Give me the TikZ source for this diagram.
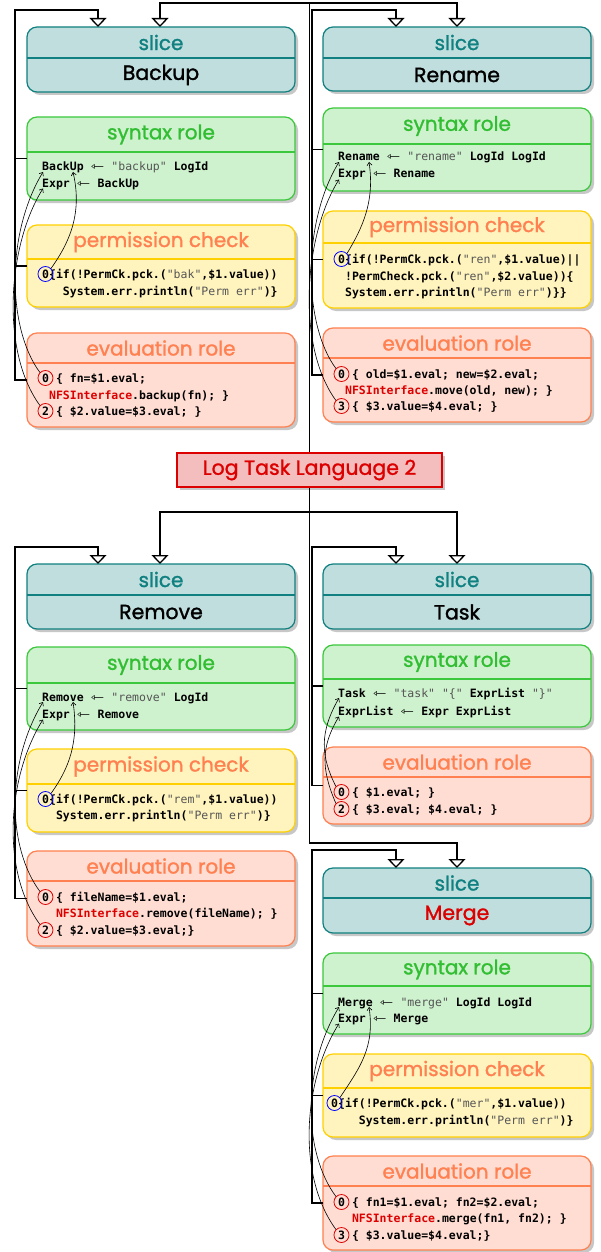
\documentclass[tikz,border=0pt]{standalone}
\usepackage{fontspec}
\usepackage{graphicx}
\setmonofont{DejaVu Sans Mono}
\newfontfamily\tfont[FakeBold=1.3]{Poppins}
\newfontfamily\djs{DejaVu Sans}
\usetikzlibrary{shadows,calc,arrows.meta}
\definecolor{slfill}{RGB}{192,222,222}
\definecolor{sldraw}{RGB}{16,128,128}
\definecolor{synfill}{RGB}{206,241,206}
\definecolor{syndraw}{RGB}{60,200,60}
\definecolor{syntext}{RGB}{50,190,50}
\definecolor{pmfill}{RGB}{255,244,190}
\definecolor{pmdraw}{RGB}{255,208,0}
\definecolor{coral}{RGB}{255,128,80}
\definecolor{evfill}{RGB}{255,221,211}
\definecolor{ltred}{RGB}{220,0,0}
\definecolor{ttfill}{RGB}{244,190,190}
\definecolor{strc}{RGB}{85,85,85}
\newcommand\Str[1]{{\mdseries\color{strc}#1}}
\newcommand\Nfs{{\color{ltred}NFSInterface}}
\newcommand\Larr{\makebox[13.85pt][c]{\mdseries\djs\scalebox{1.4}[1]{⇽}}}
\tikzset{
  box/.style={rounded corners=10pt, line width=1.2pt, minimum width=268pt, inner sep=0pt, outer sep=0pt, anchor=north west,
    drop shadow={shadow xshift=3pt,shadow yshift=-3pt,fill=black!22,opacity=1}},
  slicebox/.style={box, fill=slfill, draw=sldraw},
  synbox/.style={box, fill=synfill, draw=syndraw},
  pmbox/.style={box, fill=pmfill, draw=pmdraw},
  evbox/.style={box, fill=evfill, draw=coral},
  slicediv/.style={draw=sldraw, line width=1.2pt},
  syndiv/.style={draw=syndraw, line width=1.2pt},
  pmdiv/.style={draw=pmdraw, line width=1.2pt},
  evdiv/.style={draw=coral, line width=1.2pt},
  ttl/.style={inner sep=0pt, font=\tfont\fontsize{20}{22}\selectfont},
  slicettl/.style={ttl, text=sldraw},
  synttl/.style={ttl, text=syntext},
  pmttl/.style={ttl, text=coral},
  evttl/.style={ttl, text=coral},
  namettl/.style={inner sep=0pt, font=\tfont\fontsize{20.5}{22}\selectfont, text=black},
  code/.style={anchor=base west, inner sep=0pt, font=\ttfamily\bfseries\fontsize{11.5}{13}\selectfont},
  rc/.style={circle, draw=ltred, line width=0.8pt, minimum size=15pt, inner sep=0pt},
  bc/.style={rc, draw=blue},
  cur/.style={line width=0.6pt, -{Straight Barb[length=3pt,width=5pt]}},
  conn/.style={line width=1.3pt},
  gen/.style={conn, -{Triangle[open,fill=white,length=9pt,width=17pt]}},
  titlebox/.style={draw=ltred, fill=ttfill, line width=1.2pt, minimum width=265pt, minimum height=34pt, inner sep=0pt,
    text=ltred, font=\tfont\fontsize{20.5}{23}\selectfont,
    drop shadow={shadow xshift=3pt,shadow yshift=-3pt,fill=black!22,opacity=1}}
}
\newcommand\panel[7]{%
  \node[#2box, minimum height={(#5)-(#4)}] (#1) at (#3,#4) {};
  \draw[#2div] (#1.west |- 0,#6) -- (#1.east |- 0,#6);
  \node[#2ttl] (#1-ttl) at ({#3+134},{(#4+#6)/2}) {#7};
}
\newcommand\cdl[4]{\node[code] (#1) at (#2,{#3+4}) {#4};}
\begin{document}
\begin{tikzpicture}[x=1pt,y=-1pt]
\fill[white] (0,0) rectangle (601,1252);
\useasboundingbox (0,0) rectangle (601,1252);

% ===== title =====
\node[titlebox] (title) at (309.5,470) {Log Task Language 2};

% ===== Backup =====
\panel{bk-sl}{slice}{27}{27}{92}{58}{slice}
\node[namettl] (bk-name) at (161,75) {Backup};
\panel{bk-syn}{syn}{27}{117}{200}{152}{syntax role}
\panel{bk-pm}{pm}{27}{225}{307}{259}{permission check}
\panel{bk-ev}{ev}{27}{333}{427}{363}{evaluation role}
\cdl{bk-s1}{42}{167}{BackUp \Larr{} \Str{"backup"} LogId}
\cdl{bk-s2}{42}{183}{Expr \Larr{} BackUp}
\cdl{bk-p1}{42}{274}{0\{if(!PermCk.pck.(\Str{"bak"},\$1.value))}
\cdl{bk-p2}{62.77}{291}{System.err.println(\Str{"Perm err"})\}}
\cdl{bk-e1}{42}{378}{0 \{ fn=\$1.eval;}
\cdl{bk-e2}{48.92}{395}{\Nfs.backup(fn); \}}
\cdl{bk-e3}{42}{411}{2 \{ \$2.value=\$3.eval; \}}
\node[bc] (bk-p0) at (45.46,274) {};
\node[rc] (bk-e0) at (45.46,378) {};
\node[rc] (bk-e2) at (45.46,411) {};

% ===== Rename =====
\panel{rn-sl}{slice}{323}{27}{91}{58}{slice}
\node[namettl] (rn-name) at (457,75) {Rename};
\panel{rn-syn}{syn}{323}{108}{191}{144}{syntax role}
\panel{rn-pm}{pm}{323}{211}{308}{243}{permission check}
\panel{rn-ev}{ev}{323}{328}{422}{358}{evaluation role}
\cdl{rn-s1}{338}{157}{Rename \Larr{} \Str{"rename"} LogId LogId}
\cdl{rn-s2}{338}{174}{Expr \Larr{} Rename}
\cdl{rn-p1}{338}{259}{0\{if(!PermCk.pck.(\Str{"ren"},\$1.value)||}
\cdl{rn-p2}{344.92}{276}{!PermCheck.pck.(\Str{"ren"},\$2.value))\{}
\cdl{rn-p3}{344.92}{292}{System.err.println(\Str{"Perm err"})\}\}}
\cdl{rn-e1}{338}{374}{0 \{ old=\$1.eval; new=\$2.eval;}
\cdl{rn-e2}{344.92}{390}{\Nfs.move(old, new); \}}
\cdl{rn-e3}{338}{406}{3 \{ \$3.value=\$4.eval; \}}
\node[bc] (rn-p0) at (341.46,259) {};
\node[rc] (rn-e0) at (341.46,374) {};
\node[rc] (rn-e3) at (341.46,406) {};

% ===== Remove =====
\panel{rm-sl}{slice}{27}{564}{629}{595}{slice}
\node[namettl] (rm-name) at (161,612) {Remove};
\panel{rm-syn}{syn}{27}{647}{730}{683}{syntax role}
\panel{rm-pm}{pm}{27}{749}{832}{784}{permission check}
\panel{rm-ev}{ev}{27}{851}{946}{881}{evaluation role}
\cdl{rm-s1}{42}{697}{Remove \Larr{} \Str{"remove"} LogId}
\cdl{rm-s2}{42}{714}{Expr \Larr{} Remove}
\cdl{rm-p1}{42}{799}{0\{if(!PermCk.pck.(\Str{"rem"},\$1.value))}
\cdl{rm-p2}{55.85}{815}{System.err.println(\Str{"Perm err"})\}}
\cdl{rm-e1}{42}{897}{0 \{ fileName=\$1.eval;}
\cdl{rm-e2}{55.85}{913}{\Nfs.remove(fileName); \}}
\cdl{rm-e3}{42}{930}{2 \{ \$2.value=\$3.eval;\}}
\node[bc] (rm-p0) at (45.46,799) {};
\node[rc] (rm-e0) at (45.46,897) {};
\node[rc] (rm-e2) at (45.46,930) {};

% ===== Task =====
\panel{tk-sl}{slice}{323}{564}{629}{595}{slice}
\node[namettl] (tk-name) at (457,612) {Task};
\panel{tk-syn}{syn}{323}{645}{727}{679}{syntax role}
\panel{tk-ev}{ev}{323}{747}{824}{777}{evaluation role}
\cdl{tk-s1}{338}{693}{Task \Larr{} \Str{"task"} \Str{"\{"} ExprList \Str{"\}"}}
\cdl{tk-s2}{338}{711}{ExprList \Larr{} Expr ExprList}
\cdl{tk-e1}{338}{792}{0 \{ \$1.eval; \}}
\cdl{tk-e2}{338}{809}{2 \{ \$3.eval; \$4.eval; \}}
\node[rc] (tk-e0) at (341.46,792) {};
\node[rc] (tk-e2) at (341.46,809) {};

% ===== Merge =====
\panel{mg-sl}{slice}{323}{868}{933}{898}{slice}
\node[namettl, text=ltred] (mg-name) at (457,915.5) {Merge};
\panel{mg-syn}{syn}{323}{953}{1034}{986}{syntax role}
\panel{mg-pm}{pm}{323}{1054}{1137}{1088}{permission check}
\panel{mg-ev}{ev}{323}{1156}{1250}{1186}{evaluation role}
\cdl{mg-s1}{338}{1002}{Merge \Larr{} \Str{"merge"} LogId LogId}
\cdl{mg-s2}{338}{1018}{Expr \Larr{} Merge}
\cdl{mg-p1}{331}{1103}{0\{if(!PermCk.pck.(\Str{"mer"},\$1.value))}
\cdl{mg-p2}{358.69}{1120}{System.err.println(\Str{"Perm err"})\}}
\cdl{mg-e1}{338}{1202}{0 \{ fn1=\$1.eval; fn2=\$2.eval;}
\cdl{mg-e2}{351.85}{1218}{\Nfs.merge(fn1, fn2); \}}
\cdl{mg-e3}{338}{1235}{3 \{ \$3.value=\$4.eval;\}}
\node[bc] (mg-p0) at (334.46,1103) {};
\node[rc] (mg-e0) at (341.46,1202) {};
\node[rc] (mg-e3) at (341.46,1235) {};

% ===== connector end points =====
\coordinate (bk-in1) at ($(bk-sl.north west)+(71,0)$);
\coordinate (bk-in2) at ($(bk-sl.north west)+(133,0)$);
\coordinate (rn-in1) at ($(rn-sl.north west)+(73,0)$);
\coordinate (rn-in2) at ($(rn-sl.north west)+(134,0)$);
\coordinate (rm-in1) at ($(rm-sl.north west)+(71,0)$);
\coordinate (rm-in2) at ($(rm-sl.north west)+(133,0)$);
\coordinate (tk-in1) at ($(tk-sl.north west)+(73,0)$);
\coordinate (tk-in2) at ($(tk-sl.north west)+(134,0)$);
\coordinate (mg-in1) at ($(mg-sl.north west)+(73,0)$);
\coordinate (mg-in2) at ($(mg-sl.north west)+(134,0)$);
\coordinate (topbar) at (0,3);
\coordinate (botbar) at (0,512);
\coordinate (mgbar) at (0,843);
\coordinate (bk-bar) at (15,10);
\coordinate (rn-bar) at (312,10);
\coordinate (rm-bar) at (15,547);
\coordinate (tk-bar) at (312,547);
\coordinate (mg-bar) at (312,850);

% trunk
\draw[gen] (title.north) -- (title.north |- topbar) -| (bk-in2);
\draw[gen] (title.north |- topbar) -| (rn-in2);
\draw[gen] (title.south) -- (title.south |- botbar) -| (rm-in2);
\draw[gen] (title.south |- botbar) -| (tk-in2);
\draw[gen] (title.south |- botbar) -- (title.south |- mgbar) -| (mg-in2);

% role -> slice connectors
\draw[gen] (bk-ev.west) -| (bk-bar) -| (bk-in1);
\draw[conn] (bk-syn.west) -- (bk-syn.west -| bk-bar);
\draw[conn] (bk-pm.west) -- (bk-pm.west -| bk-bar);
\draw[gen] (rn-ev.west) -| (rn-bar) -| (rn-in1);
\draw[conn] (rn-syn.west) -- (rn-syn.west -| rn-bar);
\draw[conn] (rn-pm.west) -- (rn-pm.west -| rn-bar);
\draw[gen] (rm-ev.west) -| (rm-bar) -| (rm-in1);
\draw[conn] (rm-syn.west) -- (rm-syn.west -| rm-bar);
\draw[conn] (rm-pm.west) -- (rm-pm.west -| rm-bar);
\draw[gen] (tk-ev.west) -| (tk-bar) -| (tk-in1);
\draw[conn] (tk-syn.west) -- (tk-syn.west -| tk-bar);
\draw[gen] (mg-ev.west) -| (mg-bar) -| (mg-in1);
\draw[conn] (mg-syn.west) -- (mg-syn.west -| mg-bar);
\draw[conn] (mg-pm.west) -- (mg-pm.west -| mg-bar);

% ===== reference curves =====
\foreach \p in {bk,rn,rm,tk,mg}{
  \coordinate (\p-t1) at ($(\p-s1.base west)+(1,1)$);
  \coordinate (\p-t2) at ($(\p-s2.base west)+(1,1.5)$);
  \coordinate (\p-t3) at ($(\p-s1.base west)+(31,1)$);
}
\draw[cur] (bk-e0.north west) .. controls +(-32,-43) and +(-38,63) .. (bk-t1);
\draw[cur] (bk-e2.north west) .. controls +(-40,-55) and +(-35,56) .. (bk-t2);
\draw[cur] (bk-p0.north east) .. controls +(17,-24) and +(10,43) .. (bk-t3);
\draw[cur] (rn-e0.north west) .. controls +(-32,-43) and +(-38,63) .. (rn-t1);
\draw[cur] (rn-e3.north west) .. controls +(-40,-55) and +(-35,56) .. (rn-t2);
\draw[cur] (rn-p0.north east) .. controls +(15,-25) and +(6,40) .. (rn-t3);
\draw[cur] (rm-e0.north west) .. controls +(-32,-43) and +(-38,63) .. (rm-t1);
\draw[cur] (rm-e2.north west) .. controls +(-40,-55) and +(-35,56) .. (rm-t2);
\draw[cur] (rm-p0.north east) .. controls +(18,-25) and +(6,40) .. (rm-t3);
\draw[cur] (tk-e0.north west) .. controls +(-15,-30) and +(-20,35) .. (tk-t1);
\draw[cur] (tk-e2.north west) .. controls +(-15,-35) and +(-18,30) .. (tk-t2);
\draw[cur] (mg-e0.north west) .. controls +(-32,-43) and +(-38,63) .. (mg-t1);
\draw[cur] (mg-e3.north west) .. controls +(-40,-55) and +(-35,56) .. (mg-t2);
\draw[cur] (mg-p0.north east) .. controls +(20,-30) and +(6,40) .. (mg-t3);
\end{tikzpicture}
\end{document}
